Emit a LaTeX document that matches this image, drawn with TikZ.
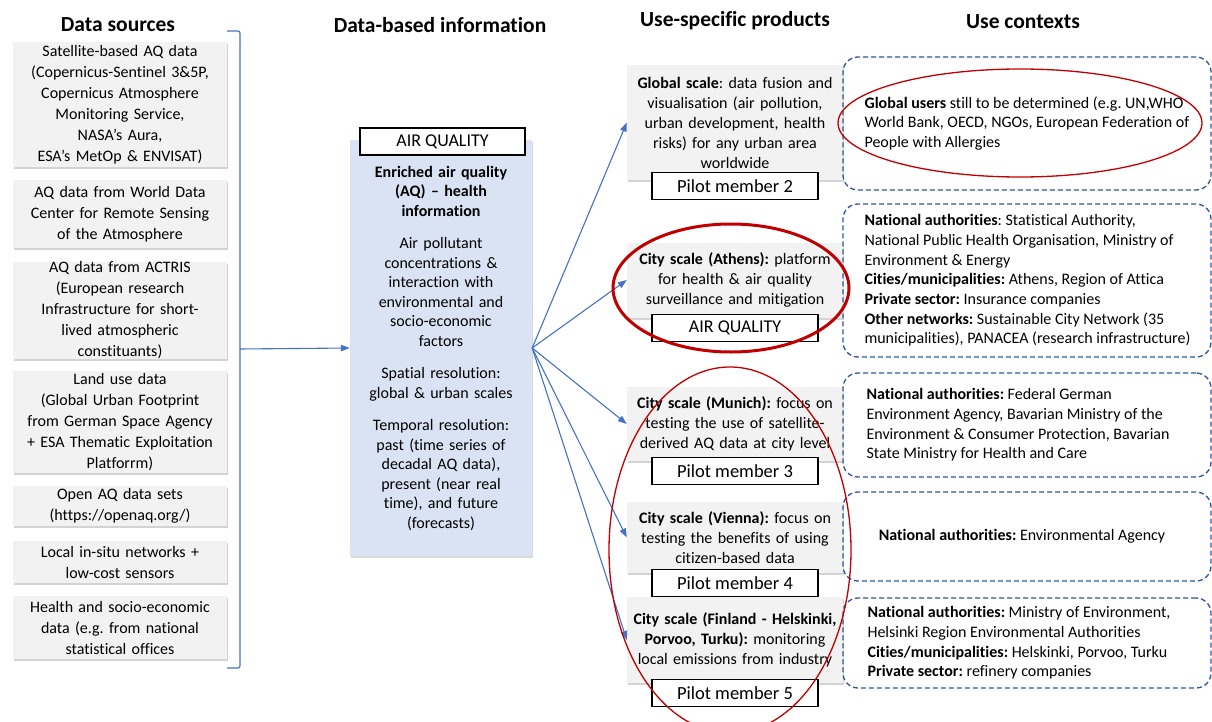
\documentclass[tikz,border=0pt]{standalone}
\usepackage{fontspec}
\setmainfont[Ligatures=NoCommon]{Carlito}
\usepackage{tikz}
\usetikzlibrary{arrows.meta,shadows,positioning}
\definecolor{boxgray}{RGB}{242,242,242}
\definecolor{aqblue}{RGB}{218,227,243}
\definecolor{flowblue}{RGB}{68,114,196}
\definecolor{dashblue}{RGB}{47,85,151}
\definecolor{ringred}{RGB}{192,0,0}
\frenchspacing

\begin{document}
\begin{tikzpicture}[x=1pt,y=-1pt,
  heading/.style={font=\fontsize{21.5}{25}\selectfont\bfseries},
  srcbox/.style={fill=boxgray, minimum width=214pt, text width=208pt, align=center, inner sep=0pt,
    font=\fontsize{16}{21}\selectfont, drop shadow={shadow xshift=1pt, shadow yshift=-2pt, opacity=.35}},
  prodbox/.style={fill=boxgray, minimum width=216pt, text width=210pt, align=center, inner sep=0pt,
    font=\fontsize{16}{20}\selectfont, drop shadow={shadow xshift=1pt, shadow yshift=-2pt, opacity=.35}},
  tagbox/.style={draw=black, fill=white, line width=1.2pt, minimum width=166pt, minimum height=27pt,
    inner sep=0pt, font=\fontsize{18.5}{20}\selectfont},
  ctxbox/.style={draw=dashblue, line width=1.3pt, dash pattern=on 5pt off 3pt, rounded corners=15pt,
    minimum width=368pt, inner sep=0pt},
  ctxtext/.style={align=left, inner sep=0pt, font=\fontsize{16}{19.7}\selectfont},
  flow/.style={flowblue, line width=1.1pt, -{Triangle[length=9pt,width=6.5pt]}},
  ring/.style={ringred, line width=1.3pt}
]
\useasboundingbox (0,0) rectangle (1212,722);

% column headings
\node[heading] (hsrc) at (118,25) {Data sources};
\node[heading] (hinfo) at (440,25) {Data-based information};
\node[heading] (hprod) at (735,21) {Use-specific products};
\node[heading] (hctx) at (1023,22) {Use contexts};

% data sources
\node[srcbox, minimum height=125pt] (src1) at (120,104.5) {Satellite-based AQ data\\ (Copernicus-Sentinel 3\&5P,\\ Copernicus Atmosphere\\ Monitoring Service,\\ NASA’s Aura,\\ ESA’s MetOp \& ENVISAT)};
\node[srcbox, minimum height=68pt] (src2) at (120,214) {AQ data from World Data\\ Center for Remote Sensing\\ of the Atmosphere};
\node[srcbox, minimum height=95pt] (src3) at (120,310.5) {AQ data from ACTRIS\\ (European research\\ Infrastructure for short-\\ lived atmospheric\\ constituants)};
\node[srcbox, minimum height=102pt] (src4) at (120,422) {Land use data\\ (Global Urban Footprint\\ from German Space Agency\\ + ESA Thematic Exploitation\\ Platforrm)};
\node[srcbox, minimum height=40pt] (src5) at (120,506) {Open AQ data sets\\ (https://openaq.org/)};
\node[srcbox, minimum height=42pt] (src6) at (120,562) {Local in-situ networks +\\ low-cost sensors};
\node[srcbox, minimum height=63pt] (src7) at (120,627.5) {Health and socio-economic\\ data (e.g. from national\\ statistical offices};

% bracket
\coordinate (brtop) at (227,31);
\coordinate (brbot) at (227,668);
\coordinate (brmid) at (240,349);
\draw[flowblue, line width=1.1pt, rounded corners=2pt] (brtop) -- ++(13,0) |- (brbot);

% data-based information
\node[fill=aqblue, minimum width=182pt, minimum height=416pt, text width=178pt, align=center, inner sep=0pt,
  font=\fontsize{16}{19.5}\selectfont, drop shadow={shadow xshift=1pt, shadow yshift=-2pt, opacity=.3}]
  (info) at (441,348) {\textbf{Enriched air quality}\\ \textbf{(AQ) -- health}\\ \textbf{information}\\[13pt]
  Air pollutant\\ concentrations \&\\ interaction with\\ environmental and\\ socio-economic\\ factors\\[13pt]
  Spatial resolution:\\ global \& urban scales\\[13pt]
  Temporal resolution:\\ past (time series of\\ decadal AQ data),\\ present (near real\\ time), and future\\ (forecasts)};
\node[tagbox, minimum width=165pt, font=\fontsize{18}{20}\selectfont] (infotag) at (442.5,141.5) {AIR QUALITY};

\draw[flow] (brmid) -- (info.west);

% use-specific products
\node[prodbox, minimum height=115pt] (glob) at (735,122.5) {\textbf{Global scale}: data fusion and\\ visualisation (air pollution,\\ urban development, health\\ risks) for any urban area\\ worldwide};
\node[prodbox, minimum height=75pt] (athens) at (735,280) {\textbf{City scale (Athens):} platform\\ for health \& air quality\\ surveillance and mitigation};
\node[prodbox, minimum height=74pt] (munich) at (735,424) {\textbf{City scale (Munich):} focus on\\ testing the use of satellite-\\ derived AQ data at city level};
\node[prodbox, minimum height=71pt] (vienna) at (735,537.5) {\textbf{City scale (Vienna):} focus on\\ testing the benefits of using\\ citizen-based data};
\node[prodbox, minimum height=86pt] (finland) at (735,640) {\textbf{City scale (Finland - Helskinki,}\\ \textbf{Porvoo, Turku):} monitoring\\ local emissions from industry};

\node[tagbox, below=-8pt of glob] (pilot2) {Pilot member 2};
\node[tagbox, below=-4pt of athens, font=\fontsize{18}{20}\selectfont] (athtag) {AIR QUALITY};
\node[tagbox, below=-4pt of munich] (pilot3) {Pilot member 3};
\node[tagbox, below=-4pt of vienna] (pilot4) {Pilot member 4};
\node[tagbox, below=-4pt of finland] (pilot5) {Pilot member 5};

\foreach \prod in {glob,athens,munich,vienna,finland}
  \draw[flow] (info.east) -- (\prod.west);

% use contexts
\node[ctxbox, minimum height=133pt] (ctxglob) at (1027,123.5) {};
\node[ctxbox, minimum height=153pt] (ctxathens) at (1027,280.5) {};
\node[ctxbox, minimum height=104pt] (ctxmunich) at (1027,425) {};
\node[ctxbox, minimum height=89pt] (ctxvienna) at (1027,536.5) {};
\node[ctxbox, minimum height=90pt] (ctxfinland) at (1027,643) {};

\node[ctxtext, anchor=west] (globtxt) at ([xshift=22pt]ctxglob.west) {\textbf{Global users} still to be determined (e.g. UN,WHO\\ World Bank, OECD, NGOs, European Federation of\\ People with Allergies};
\node[ctxtext, anchor=west] (athenstxt) at ([xshift=22pt]ctxathens.west) {\textbf{National authorities}: Statistical Authority,\\ National Public Health Organisation, Ministry of\\ Environment \& Energy\\ \textbf{Cities/municipalities:} Athens, Region of Attica\\ \textbf{Private sector:} Insurance companies\\ \textbf{Other networks:} Sustainable City Network (35\\ municipalities), PANACEA (research infrastructure)};
\node[ctxtext, anchor=west] (munichtxt) at ([xshift=24pt]ctxmunich.west) {\textbf{National authorities:} Federal German\\ Environment Agency, Bavarian Ministry of the\\ Environment \& Consumer Protection, Bavarian\\ State Ministry for Health and Care};
\node[ctxtext] (viennatxt) at ([xshift=-5pt]ctxvienna.center) {\textbf{National authorities:} Environmental Agency};
\node[ctxtext, anchor=west] (finlandtxt) at ([xshift=25pt]ctxfinland.west) {\textbf{National authorities:} Ministry of Environment,\\ Helsinki Region Environmental Authorities\\ \textbf{Cities/municipalities:} Helskinki, Porvoo, Turku\\ \textbf{Private sector:} refinery companies};

% highlight rings
\draw[ring] (1020,123) ellipse [x radius=182, y radius=54];
\draw[ring, line width=3pt] (731,288) ellipse [x radius=118, y radius=64];
\draw[ring] (730,550) ellipse [x radius=121, y radius=183];
\end{tikzpicture}
\end{document}
